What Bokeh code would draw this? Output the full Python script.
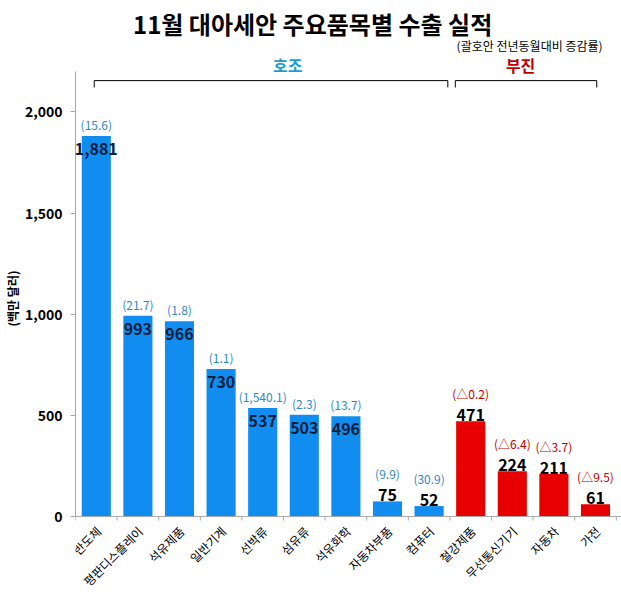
import math
from bokeh.plotting import figure
from bokeh.models import ColumnDataSource, Label, FixedTicker, NumeralTickFormatter, Range1d, Span
from bokeh.core.properties import value
from bokeh.embed import file_html
from bokeh.resources import INLINE

# ---------------- data ----------------
categories = ["반도체", "평판디스플레이", "석유제품", "일반기계", "선박류", "섬유류", "석유화학",
              "자동차부품", "컴퓨터", "철강제품", "무선통신기기", "자동차", "가전"]
exports = [1881, 993, 966, 730, 537, 503, 496, 75, 52, 471, 224, 211, 61]
change_labels = ["(15.6)", "(21.7)", "(1.8)", "(1.1)", "(1,540.1)", "(2.3)", "(13.7)", "(9.9)",
                 "(30.9)", "(△0.2)", "(△6.4)", "(△3.7)", "(△9.5)"]
groups = ["호조"] * 9 + ["부진"] * 4
group_names = ["호조", "부진"]
y_ticks = [0, 500, 1000, 1500, 2000]
title_text = "11월 대아세안 주요품목별 수출 실적"
subtitle_text = "(괄호안 전년동월대비 증감률)"
y_label = "(백만 달러)"

# ---------------- styles / layout ----------------
FONT = "Noto Sans CJK KR"
bar_colors = {"호조": "#118DF0", "부진": "#E60000"}
rate_colors = {"호조": "#2E88C8", "부진": "#C00000"}
group_label_colors = {"호조": "#1E9BD7", "부진": "#C00000"}
AXIS_GRAY = "#A6A6A6"
INSIDE_MIN = 480
Y_AXIS_MAX = 2200

W, H, LEFT = 621, 596, 75
X0, X1 = -0.5, 12.625
Y0, Y1 = -395, 2551
units_per_px_y = (Y1 - Y0) / H
units_per_px_x = (X1 - X0) / (W - LEFT)

xs = list(range(len(categories)))

p = figure(width=W, height=H, output_backend="svg", toolbar_location=None,
           x_range=Range1d(X0, X1), y_range=Range1d(Y0, Y1),
           x_axis_location=None,
           min_border_left=LEFT, min_border_right=0, min_border_top=0, min_border_bottom=0)
p.title = None
p.outline_line_color = None
p.grid.visible = False
p.background_fill_color = "white"

src = ColumnDataSource(dict(
    x=xs, top=exports, color=[bar_colors[g] for g in groups],
))
p.vbar(x="x", top="top", width=0.7, source=src, fill_color="color", line_color=None)

# x axis line and category boundary ticks
p.add_layout(Span(location=0, dimension="width", line_color=AXIS_GRAY, line_width=1))
bounds_x = [i - 0.5 for i in range(len(categories) + 1)]
tick_len = 4 * units_per_px_y
p.segment(x0=bounds_x, y0=[0] * len(bounds_x), x1=bounds_x, y1=[-tick_len] * len(bounds_x),
          line_color=AXIS_GRAY, line_width=1)

# category labels (rotated), anchored a few px below the axis
lab_x = [x + 2 * units_per_px_x for x in xs]
lab_y = [-12 * units_per_px_y] * len(xs)
p.text(x=lab_x, y=lab_y, text=categories, angle=math.pi / 4, text_align="right",
       text_baseline="middle", text_font=value(FONT),
       text_font_size="12px", text_color="#000000")

# value labels
inside = [i for i, v in enumerate(exports) if v >= INSIDE_MIN]
outside = [i for i, v in enumerate(exports) if v < INSIDE_MIN]

def sub(idx):
    return ColumnDataSource(dict(
        x=[xs[i] for i in idx], y=[exports[i] for i in idx],
        t=[f"{exports[i]:,}" for i in idx],
        r=[change_labels[i] for i in idx],
        rc=[rate_colors[groups[i]] for i in idx],
    ))

s_in = sub(inside)
s_out = sub(outside)

p.text(x="x", y="y", text="t", source=s_in, text_align="center", text_baseline="top",
       y_offset=7, text_font=value(FONT), text_font_size="16px", text_font_style="bold",
       text_color="#0B1D3C")
p.text(x="x", y="y", text="t", source=s_out, text_align="center", text_baseline="bottom",
       y_offset=0, text_font=value(FONT), text_font_size="16px", text_font_style="bold",
       text_color="#000000")
p.text(x="x", y="y", text="r", source=s_in, text_align="center", text_baseline="bottom",
       y_offset=-3, text_font=value(FONT), text_font_size="12px", text_color="rc")
p.text(x="x", y="y", text="r", source=s_out, text_align="center", text_baseline="bottom",
       y_offset=-19, text_font=value(FONT), text_font_size="12px", text_color="rc")

# group brackets
b_xs, b_ys = [], []
y_top, y_tick = 2155, 2121
for gi, g in enumerate(group_names):
    idx = [i for i, gg in enumerate(groups) if gg == g]
    if gi == 0:
        left, right = idx[0] - 0.05, idx[-1] + 0.45
    else:
        left, right = idx[0] - 0.37, idx[-1] + 0.03
    b_xs.append([left, left, right, right])
    b_ys.append([y_tick, y_top, y_top, y_tick])
p.multi_line(xs=b_xs, ys=b_ys, line_color="#000000", line_width=1)

group_label_x = {"호조": 4.6, "부진": 10.2}
for g in group_names:
    p.add_layout(Label(x=group_label_x[g], y=2230, text=g, text_align="center",
                       text_baseline="middle", text_font=FONT, text_font_size="16px",
                       text_font_style="bold", text_color=group_label_colors[g]))

p.add_layout(Label(x=5.2, y=2437, text=title_text, text_align="center", text_baseline="middle",
                   text_font=FONT, text_font_size="24px", text_font_style="bold",
                   text_color="#000000"))
p.add_layout(Label(x=12.17, y=2329, text=subtitle_text, text_align="right",
                   text_baseline="middle", text_font=FONT, text_font_size="12px",
                   text_color="#000000"))

# y axis
ya = p.yaxis[0]
ya.bounds = (0, Y_AXIS_MAX)
ya.ticker = FixedTicker(ticks=y_ticks)
ya.formatter = NumeralTickFormatter(format="0,0")
ya.major_label_text_font = FONT
ya.major_label_text_font_size = "14px"
ya.major_label_text_font_style = "bold"
ya.major_label_text_color = "#000000"
ya.axis_line_color = AXIS_GRAY
ya.major_tick_line_color = AXIS_GRAY
ya.major_tick_out = 5
ya.major_tick_in = 0
ya.minor_tick_line_color = None
ya.axis_label = y_label
ya.axis_label_text_font = FONT
ya.axis_label_text_font_size = "12px"
ya.axis_label_text_font_style = "bold"
ya.axis_label_text_color = "#000000"
ya.axis_label_standoff = 1
ya.major_label_standoff = 8

open("out.html", "w").write(file_html(p, INLINE))
